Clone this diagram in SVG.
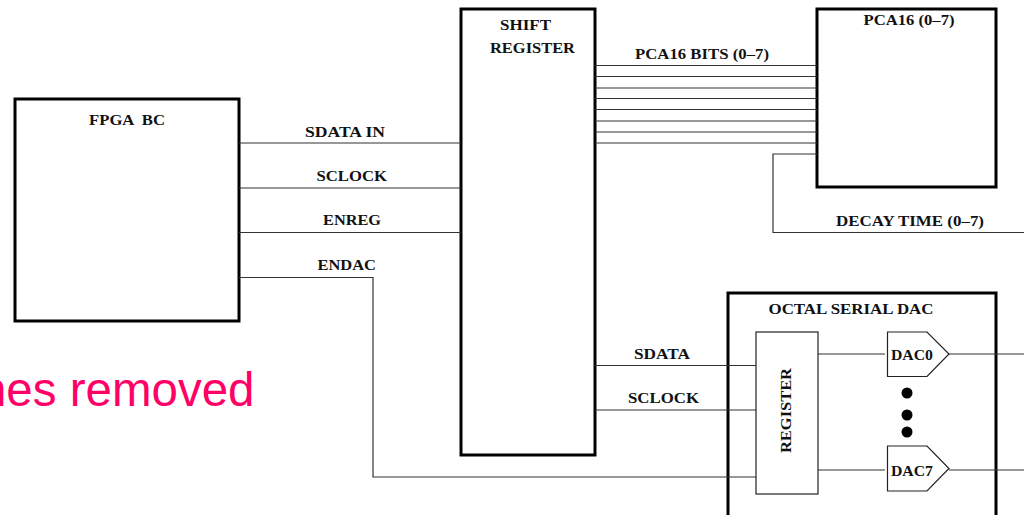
<svg xmlns="http://www.w3.org/2000/svg" width="1024" height="515" viewBox="0 0 1024 515">
<style>
.box{fill:#fff;stroke:#000;stroke-width:3}
.thin{fill:#fff;stroke:#222;stroke-width:1.2}
.w{fill:none;stroke:#333;stroke-width:1.2}
text{font-family:"Liberation Serif",serif;font-weight:bold;font-size:15.500px;fill:#111;white-space:pre}
#note text{font-family:"Liberation Sans",Arial,sans-serif;font-weight:normal;font-size:47.500px;fill:#ff0066;text-anchor:end}
</style>
<rect width="1024" height="515" fill="#fff"/>
<g id="fpga"><rect class="box" x="15" y="99" width="224" height="222"/><text x="89" y="125" textLength="76" lengthAdjust="spacingAndGlyphs">FPGA  BC</text></g>
<g id="shift-register"><rect class="box" x="461" y="9" width="134" height="446"/><text x="500" y="30" textLength="51" lengthAdjust="spacingAndGlyphs">SHIFT</text><text x="490" y="52.500" textLength="85" lengthAdjust="spacingAndGlyphs">REGISTER</text></g>
<g id="pca16"><rect class="box" x="817" y="9" width="179" height="178"/><text x="863.500" y="24.500" textLength="91" lengthAdjust="spacingAndGlyphs">PCA16 (0–7)</text></g>
<g id="octal-dac"><rect class="box" x="728" y="293" width="268" height="240"/><text x="768.500" y="314" textLength="165" lengthAdjust="spacingAndGlyphs">OCTAL SERIAL DAC</text></g>
<g id="connectors">
<path class="w" d="M239 143H461M239 188H461M239 232.500H461M239 277.500H373V477H756"/>
<path class="w" d="M595 65.500H817M595 76.500H817M595 88H817M595 98.500H817M595 109.500H817M595 121H817M595 132H817M595 143H817"/>
<path class="w" d="M817 154H773V232.500H1024"/>
<path class="w" d="M595 365.500H756M595 410H756"/>
<path class="w" d="M818 354H885M949 354H1024M818 470H885M949 470H1024"/>
</g>
<g id="register"><rect class="thin" x="756" y="332" width="62" height="162"/><text transform="translate(790.500 453) rotate(-90)" textLength="85" lengthAdjust="spacingAndGlyphs">REGISTER</text></g>
<g id="dac0"><path class="thin" d="M887.500 332H927L949 354L927 376.500H887.500Z"/><text x="891" y="359.500" textLength="42" lengthAdjust="spacingAndGlyphs">DAC0</text></g>
<g id="dac7"><path class="thin" d="M887.500 446H927L949 468.500L927 491H887.500Z"/><text x="891" y="476" textLength="42" lengthAdjust="spacingAndGlyphs">DAC7</text></g>
<g id="dots"><circle cx="907" cy="393" r="5.500"/><circle cx="907" cy="415" r="5.500"/><circle cx="907" cy="432" r="5.500"/></g>
<g id="labels">
<text x="305" y="136.500" textLength="80" lengthAdjust="spacingAndGlyphs">SDATA IN</text>
<text x="316.500" y="180.500" textLength="70.500" lengthAdjust="spacingAndGlyphs">SCLOCK</text>
<text x="323" y="225" textLength="58" lengthAdjust="spacingAndGlyphs">ENREG</text>
<text x="317.500" y="270" textLength="58.500" lengthAdjust="spacingAndGlyphs">ENDAC</text>
<text x="635" y="58.500" textLength="134" lengthAdjust="spacingAndGlyphs">PCA16 BITS (0–7)</text>
<text x="836" y="225.500" textLength="148" lengthAdjust="spacingAndGlyphs">DECAY TIME (0–7)</text>
<text x="634" y="358.500" textLength="56" lengthAdjust="spacingAndGlyphs">SDATA</text>
<text x="628" y="403" textLength="71" lengthAdjust="spacingAndGlyphs">SCLOCK</text>
</g>
<g id="note"><text x="254.500" y="405.500">nes removed</text></g>
</svg>
